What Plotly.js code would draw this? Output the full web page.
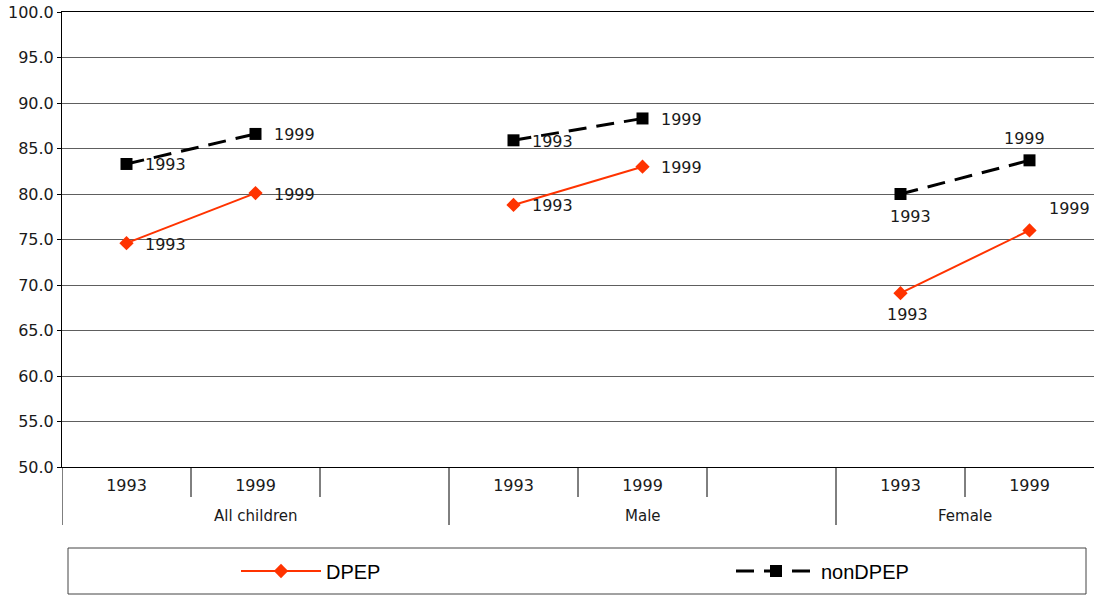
<!DOCTYPE html>
<html>
<head>
<meta charset="utf-8">
<script src="https://cdn.plot.ly/plotly-3.0.1.min.js"></script>
<style>
  html, body { margin: 0; padding: 0; background: #fff; }
  #chart { width: 1094px; height: 595px; }
</style>
</head>
<body>
<div id="chart"></div>
<script>
// Enrolment rates by group and survey year
const groups = ['All children', 'Male', 'Female'];
const years = ['1993', '1999'];
const dpep = [74.6, 80.1, 78.8, 83.0, 69.1, 76.0];
const nonDpep = [83.3, 86.6, 85.9, 88.3, 80.0, 83.7];
const yTickVals = [50, 55, 60, 65, 70, 75, 80, 85, 90, 95, 100];

// Each group occupies three category slots; the last group's spare slot is cut off.
const SLOTS = 3;
const slotOf = (gi, yi) => gi * SLOTS + yi;

// Build one trace's arrays, breaking the line between groups.
function series(values) {
  const x = [], y = [];
  groups.forEach((g, gi) => {
    years.forEach((yr, yi) => {
      x.push(slotOf(gi, yi));
      y.push(values[gi * years.length + yi]);
    });
    x.push(null); y.push(null);
  });
  return { x, y };
}

const dp = series(dpep);
const nd = series(nonDpep);

const traces = [
  {
    name: 'DPEP', x: dp.x, y: dp.y,
    mode: 'lines+markers', connectgaps: false, cliponaxis: false,
    line: { color: '#ff3300', width: 2 },
    marker: { symbol: 'diamond', size: 11, color: '#ff3300' },
    hoverinfo: 'x+y'
  },
  {
    name: 'nonDPEP', x: nd.x, y: nd.y,
    mode: 'lines+markers', connectgaps: false, cliponaxis: false,
    line: { color: '#000000', width: 3, dash: '18px,10px' },
    marker: { symbol: 'square', size: 12, color: '#000000' },
    hoverinfo: 'x+y'
  }
];

// Year labels beside each point: to the right in the first groups,
// above / below in the last group where the lines sit closer together.
const labelFont = { family: 'DejaVu Sans', size: 16, color: '#1a1a1a' };
function pointLabels(values, lastGroupPlacement) {
  const out = [];
  groups.forEach((g, gi) => {
    years.forEach((yr, yi) => {
      const base = { text: yr, xref: 'x', yref: 'y', x: slotOf(gi, yi), y: values[gi * years.length + yi],
                     showarrow: false, font: labelFont };
      if (gi < groups.length - 1) {
        out.push(Object.assign(base, { xanchor: 'left', yanchor: 'middle', xshift: 16, yshift: -1 }));
      } else {
        out.push(Object.assign(base, lastGroupPlacement[yi]));
      }
    });
  });
  return out;
}
const dpLabels = pointLabels(dpep, [
  { xanchor: 'center', yanchor: 'middle', xshift: 7, yshift: -21 },
  { xanchor: 'left', yanchor: 'middle', xshift: 17, yshift: 22 }
]);
const ndLabels = pointLabels(nonDpep, [
  { xanchor: 'center', yanchor: 'middle', xshift: 10, yshift: -22 },
  { xanchor: 'center', yanchor: 'middle', xshift: -5, yshift: 22 }
]);

// Category tick labels along the x axis
const tickVals = [], tickText = [];
groups.forEach((g, gi) => years.forEach((yr, yi) => { tickVals.push(slotOf(gi, yi)); tickText.push(yr); }));

// Separator lines under the axis: short between slots, long between groups
const shapes = [];
const totalSlots = groups.length * SLOTS - 1;
for (let s = 0; s < totalSlots; s++) {
  const edge = s - 0.5;
  const long = s % SLOTS === 0;
  shapes.push({
    type: 'line', xref: 'x', yref: 'paper',
    x0: edge, x1: edge, y0: 0, y1: long ? -58 / 455 : -30 / 455,
    line: { color: '#000', width: 1 }
  });
}
// Legend frame
shapes.push({
  type: 'rect', xref: 'paper', yref: 'paper',
  x0: (68 - 62) / 1032, x1: (1086 - 62) / 1032,
  y0: -(594 - 467) / 455, y1: -(548 - 467) / 455,
  line: { color: '#444', width: 1 }, fillcolor: 'rgba(0,0,0,0)'
});

// Group names below the year labels
const groupLabels = groups.map((g, gi) => ({
  text: g, xref: 'x', yref: 'paper',
  x: gi < groups.length - 1 ? slotOf(gi, 1) : slotOf(gi, 0.5),
  y: -49 / 455, yanchor: 'middle', xanchor: 'center', showarrow: false,
  font: { family: 'DejaVu Sans', size: 15, color: '#1a1a1a' }
}));

const layout = {
  width: 1094, height: 595,
  margin: { l: 62, r: 0, t: 12, b: 128, autoexpand: false },
  paper_bgcolor: '#fff', plot_bgcolor: '#fff',
  showlegend: true,
  legend: {
    orientation: 'h', x: (236 - 62) / 1032, xanchor: 'left',
    y: -(571 - 467) / 455, yanchor: 'middle',
    entrywidth: 400, entrywidthmode: 'pixels', itemwidth: 80,
    font: { family: 'Liberation Sans', size: 20, color: '#000' },
    bgcolor: 'rgba(0,0,0,0)', borderwidth: 0
  },
  xaxis: {
    range: [-0.5, groups.length * SLOTS - 1.5],
    tickvals: tickVals, ticktext: tickText,
    ticks: '', showgrid: false, zeroline: false,
    showline: true, mirror: true, linecolor: '#000', linewidth: 1,
    tickfont: { family: 'DejaVu Sans', size: 16, color: '#1a1a1a' },
    ticklabelstandoff: 4
  },
  yaxis: {
    range: [50, 100], tickvals: yTickVals, tickformat: '.1f',
    ticks: 'outside', ticklen: 4, tickcolor: '#000',
    showline: true, linecolor: '#000', linewidth: 1,
    showgrid: true, gridcolor: '#5e5e5e', gridwidth: 1, zeroline: false,
    tickfont: { family: 'DejaVu Sans', size: 16, color: '#1a1a1a' }
  },
  shapes: shapes,
  annotations: groupLabels.concat(dpLabels, ndLabels)
};

Plotly.newPlot('chart', traces, layout, { displayModeBar: false, staticPlot: true });
</script>
</body>
</html>
